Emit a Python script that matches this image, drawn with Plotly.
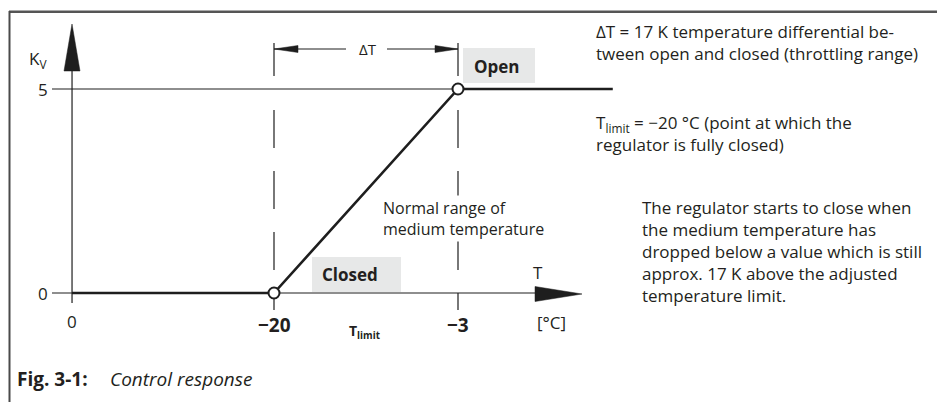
import plotly.graph_objects as go

# ---------------- data ----------------
T_LIMIT = -20          # °C, regulator fully closed
DELTA_T = 17           # K, throttling range
curve_T = [-38.66, -20, -3, 11.3]
curve_KV = [0, 0, 5, 5]
point_T = [-20, -3]
point_KV = [0, 5]
x_tick_vals = [-38.66, -20, -3]
x_tick_text = ["0", "−20", "−3"]
y_tick_vals = [0, 5]
y_tick_text = ["0", "5"]

# ---------------- geometry helpers (layout only, page pixels) ----------------
W, H = 945, 402
PAGE_OFF = 8                      # default body margin of the html page
PX_PER_T = 184 / 17
PX_PER_KV = 204 / 5
X_REF_PX, Y_REF_PX = 274, 293


def X(px):
    return T_LIMIT + (px - X_REF_PX) / PX_PER_T


def Y(py):
    return (Y_REF_PX - py) / PX_PER_KV


INK = "#1e1e1e"
TXT = "#231f20"
BOX = "#e7e8e8"
FONT = "Open Sans"

fig = go.Figure()

# response curve
fig.add_trace(go.Scatter(x=curve_T, y=curve_KV, mode="lines",
                         line=dict(color=INK, width=2.6), hoverinfo="skip"))
# open / closed points
fig.add_trace(go.Scatter(x=point_T, y=point_KV, mode="markers",
                         marker=dict(symbol="circle", size=11, color="white",
                                     line=dict(color=INK, width=2)),
                         hoverinfo="skip"))

shapes = []


def line(x0, y0, x1, y1, width=1.2, color=INK, dash=None, layer="below"):
    d = dict(type="line", xref="x", yref="y", x0=x0, y0=y0, x1=x1, y1=y1,
             line=dict(color=color, width=width), layer=layer)
    if dash:
        d["line"]["dash"] = dash
    shapes.append(d)


def tri(pts, color=INK):
    path = "M " + " L ".join(f"{X(a)},{Y(b)}" for a, b in pts) + " Z"
    shapes.append(dict(type="path", xref="x", yref="y", path=path,
                       fillcolor=color, line=dict(color=color, width=0.5),
                       layer="below"))


def rect(px0, py0, px1, py1):
    shapes.append(dict(type="rect", xref="x", yref="y", x0=X(px0), y0=Y(py1),
                       x1=X(px1), y1=Y(py0), fillcolor=BOX,
                       line=dict(width=0), layer="below"))


# frame (top, left, right)
shapes.append(dict(type="rect", xref="x", yref="y",
                   x0=X(9), x1=X(941.5), y0=Y(10.5), y1=Y(13),
                   fillcolor="#555555", line=dict(width=0), layer="above"))
frame_path = (f"M {X(9.5)},{Y(420)} L {X(9.5)},{Y(11)} "
              f"M {X(941)},{Y(11)} L {X(941)},{Y(420)}")
shapes.append(dict(type="path", xref="x", yref="y", path=frame_path,
                   line=dict(color="#4a4a4a", width=2), layer="above"))

# label boxes
rect(463, 48, 535, 83)
rect(312, 257, 401, 292)

# y axis with arrow
line(x_tick_vals[0], Y(71), x_tick_vals[0], Y(303))
tri([(72, 24), (64, 71), (80, 71)])
# x axis with arrow
line(X(52), y_tick_vals[0], X(536), y_tick_vals[0])
tri([(582, 294), (535, 286.5), (535, 301.5)])
# Kv = 5 reference line
line(X(52), y_tick_vals[1], point_T[1], y_tick_vals[1])

# dashed verticals
for t in point_T:
    line(t, Y(110), t, Y(310), width=1.2, dash="38px,23px")
    line(t, Y(43), t, Y(76), width=1.2)

# delta-T dimension arrow
line(point_T[0], Y(49), X(346), Y(49), width=1.1)
line(X(387), Y(49), point_T[1], Y(49), width=1.1)
tri([(274, 49), (298, 45.5), (298, 52.5)])
tri([(458, 49), (435, 45.5), (435, 52.5)])

ann = []


def text(px, py, s, size=16, xanchor="center", yanchor="middle", bold=False,
         italic=False, bg=None, align="left"):
    d = dict(x=X(px), y=Y(py), xref="x", yref="y", text=s, showarrow=False,
             xanchor=xanchor, yanchor=yanchor, align=align,
             font=dict(family=FONT, size=size, color=TXT,
                       weight="bold" if bold else "normal",
                       style="italic" if italic else "normal"))
    if bg:
        d["bgcolor"] = bg
    ann.append(d)


# tick labels
for v, s in zip(y_tick_vals, y_tick_text):
    text(43, Y_REF_PX - v * PX_PER_KV, s, size=17)
for v, s, b in zip(x_tick_vals, x_tick_text, [False, True, True]):
    text(X_REF_PX + (v - T_LIMIT) * PX_PER_T, 321 if not b else 325, s,
         size=19 if b else 17, bold=b)

text(38, 59, "K<sub>V</sub>", size=17)
text(538, 272, "T", size=17)
text(551, 322, "[°C]", size=17)
text(364, 331, "T<sub>limit</sub>", size=14, bold=True)
text(368, 49, "ΔT", size=15)
text(472, 66, "Open", size=17, bold=True, xanchor="left")
text(320, 274, "Closed", size=17, bold=True, xanchor="left")
text(381, 218, "Normal range of<br>medium temperature", size=16,
     xanchor="left", bg="white")

text(594, 42, "ΔT = 17 K temperature differential be-<br>"
     "tween open and closed (throttling range)", size=17, xanchor="left")
text(594, 133, "T<sub>limit</sub> = −20 °C (point at which the<br>"
     "regulator is fully closed)", size=17, xanchor="left")
text(640, 251, "The regulator starts to close when<br>"
     "the medium temperature has<br>"
     "dropped below a value which is still<br>"
     "approx. 17 K above the adjusted<br>"
     "temperature limit.", size=17, xanchor="left")

text(15, 379, "Fig. 3-1:", size=19, bold=True, xanchor="left")
text(108, 379, "Control response", size=19, italic=True, xanchor="left")

fig.update_layout(
    width=W, height=H, margin=dict(l=0, r=0, t=0, b=0),
    paper_bgcolor="white", plot_bgcolor="white", showlegend=False,
    xaxis=dict(range=[X(PAGE_OFF), X(PAGE_OFF + W)], visible=False,
               fixedrange=True),
    yaxis=dict(range=[Y(PAGE_OFF + H), Y(PAGE_OFF)], visible=False,
               fixedrange=True),
    shapes=shapes, annotations=ann,
)

fig.write_html("out.html")
